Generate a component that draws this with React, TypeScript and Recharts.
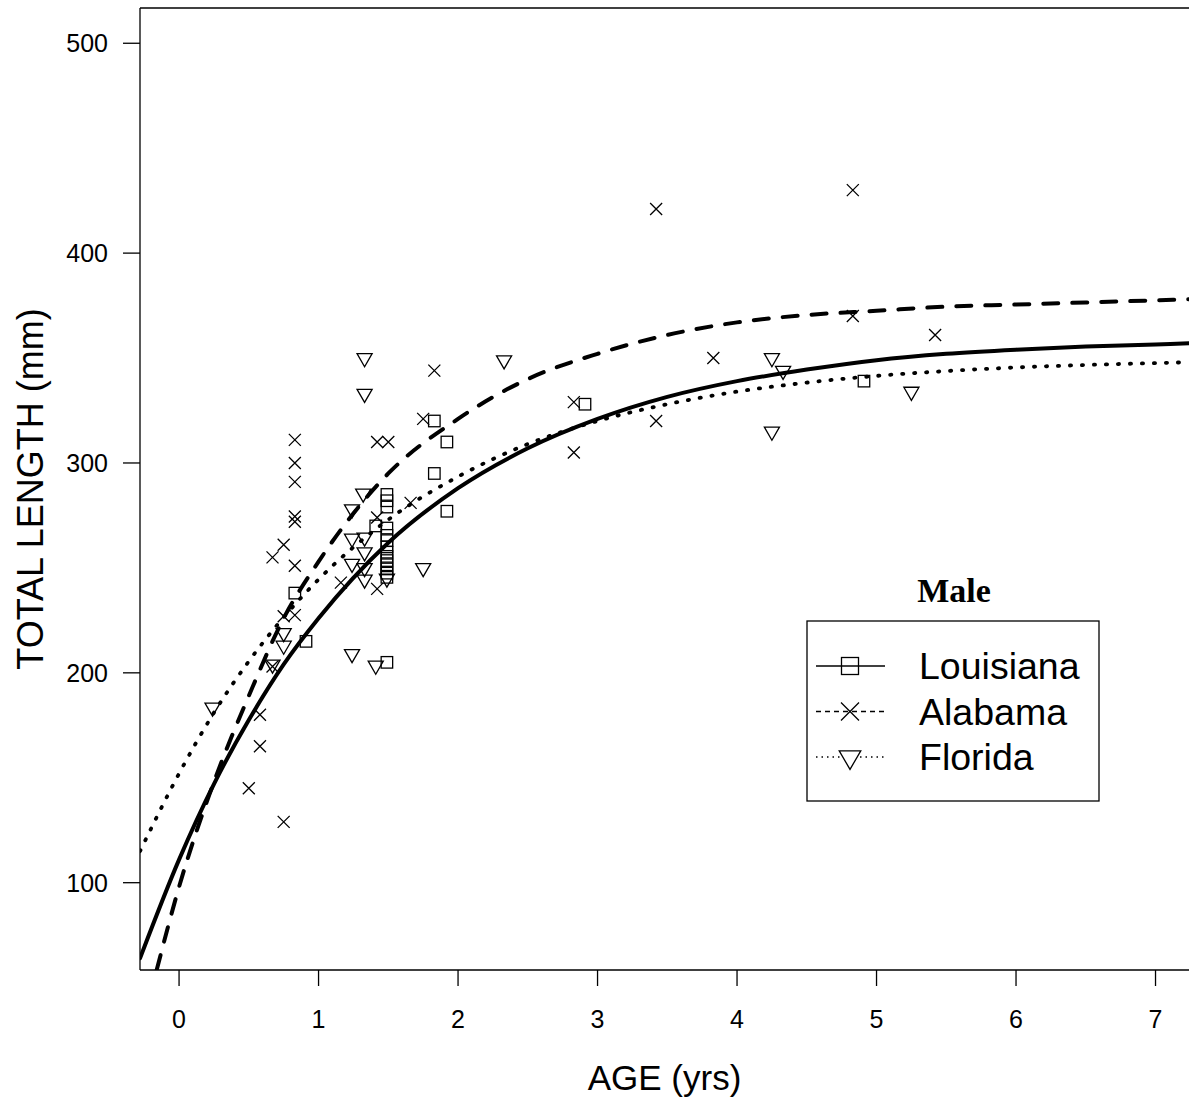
import React from "react";
import {
  ComposedChart,
  Line,
  Scatter,
  XAxis,
  YAxis,
  ReferenceLine,
  Legend,
} from "recharts";

type Pt = { age: number; length: number };

const FONT = "'Liberation Sans', Arial, Helvetica, sans-serif";

const xTicks = [0, 1, 2, 3, 4, 5, 6, 7];
const yTicks = [100, 200, 300, 400, 500];

// observed fish (age in yrs, total length in mm)
const louisianaPoints: Pt[] = [
  { age: 0.83, length: 238 },
  { age: 0.91, length: 215 },
  { age: 1.41, length: 270 },
  { age: 1.49, length: 285 },
  { age: 1.49, length: 282 },
  { age: 1.49, length: 279 },
  { age: 1.49, length: 269 },
  { age: 1.49, length: 265.5 },
  { age: 1.49, length: 263 },
  { age: 1.49, length: 260 },
  { age: 1.49, length: 257.5 },
  { age: 1.49, length: 255.5 },
  { age: 1.49, length: 253.5 },
  { age: 1.49, length: 251.5 },
  { age: 1.49, length: 249.5 },
  { age: 1.49, length: 247.5 },
  { age: 1.49, length: 245.5 },
  { age: 1.49, length: 205 },
  { age: 1.83, length: 320 },
  { age: 1.83, length: 295 },
  { age: 1.92, length: 310 },
  { age: 1.92, length: 277 },
  { age: 2.91, length: 328 },
  { age: 4.91, length: 339 },
];

const alabamaPoints: Pt[] = [
  { age: 0.5, length: 145 },
  { age: 0.58, length: 180 },
  { age: 0.58, length: 165 },
  { age: 0.67, length: 255 },
  { age: 0.67, length: 203 },
  { age: 0.75, length: 261 },
  { age: 0.75, length: 227 },
  { age: 0.75, length: 129 },
  { age: 0.83, length: 311 },
  { age: 0.83, length: 300 },
  { age: 0.83, length: 291 },
  { age: 0.83, length: 274.5 },
  { age: 0.83, length: 272 },
  { age: 0.83, length: 251 },
  { age: 0.83, length: 227.5 },
  { age: 1.16, length: 243 },
  { age: 1.42, length: 240 },
  { age: 1.42, length: 274 },
  { age: 1.42, length: 310 },
  { age: 1.5, length: 310 },
  { age: 1.66, length: 281 },
  { age: 1.75, length: 321 },
  { age: 1.83, length: 344 },
  { age: 2.83, length: 329 },
  { age: 2.83, length: 305 },
  { age: 3.42, length: 421 },
  { age: 3.42, length: 320 },
  { age: 3.83, length: 350 },
  { age: 4.83, length: 430 },
  { age: 4.83, length: 370 },
  { age: 5.42, length: 361 },
];

const floridaPoints: Pt[] = [
  { age: 0.24, length: 183.5 },
  { age: 0.67, length: 204 },
  { age: 0.75, length: 219 },
  { age: 0.75, length: 213 },
  { age: 1.24, length: 278 },
  { age: 1.24, length: 264 },
  { age: 1.24, length: 252 },
  { age: 1.24, length: 209 },
  { age: 1.32, length: 285.5 },
  { age: 1.33, length: 350 },
  { age: 1.33, length: 333 },
  { age: 1.33, length: 264.5 },
  { age: 1.33, length: 257.5 },
  { age: 1.33, length: 250 },
  { age: 1.33, length: 244.5 },
  { age: 1.41, length: 203.5 },
  { age: 1.49, length: 245 },
  { age: 1.75, length: 250 },
  { age: 2.33, length: 349 },
  { age: 4.25, length: 350 },
  { age: 4.33, length: 344 },
  { age: 4.25, length: 315 },
  { age: 5.25, length: 334 },
];

// growth curves
const louisianaCurve: Pt[] = [
  { age: -0.28, length: 64 },
  { age: 0, length: 111 },
  { age: 0.25, length: 147 },
  { age: 0.5, length: 177.5 },
  { age: 0.75, length: 204 },
  { age: 1, length: 226 },
  { age: 1.5, length: 262 },
  { age: 2, length: 288 },
  { age: 2.5, length: 307 },
  { age: 3, length: 321 },
  { age: 3.5, length: 331.5 },
  { age: 4, length: 339 },
  { age: 4.5, length: 344.5 },
  { age: 5, length: 349 },
  { age: 5.5, length: 352 },
  { age: 6, length: 354 },
  { age: 6.5, length: 355.5 },
  { age: 7, length: 356.5 },
  { age: 7.24, length: 357 },
];

const alabamaCurve: Pt[] = [
  { age: -0.16, length: 58.5 },
  { age: 0, length: 98 },
  { age: 0.25, length: 148 },
  { age: 0.5, length: 189 },
  { age: 0.75, length: 226 },
  { age: 1, length: 253 },
  { age: 1.5, length: 295 },
  { age: 2, length: 321 },
  { age: 2.5, length: 340 },
  { age: 3, length: 352 },
  { age: 3.5, length: 361 },
  { age: 4, length: 367 },
  { age: 4.5, length: 370.5 },
  { age: 5, length: 372.5 },
  { age: 5.5, length: 374.5 },
  { age: 6, length: 375.5 },
  { age: 6.5, length: 376.5 },
  { age: 7, length: 377.5 },
  { age: 7.24, length: 378 },
];

const floridaCurve: Pt[] = [
  { age: -0.28, length: 115 },
  { age: 0, length: 152 },
  { age: 0.25, length: 181 },
  { age: 0.5, length: 205.5 },
  { age: 0.75, length: 226.5 },
  { age: 1, length: 244.5 },
  { age: 1.5, length: 273 },
  { age: 2, length: 293.5 },
  { age: 2.5, length: 309 },
  { age: 3, length: 320 },
  { age: 3.5, length: 328 },
  { age: 4, length: 334 },
  { age: 4.5, length: 338.3 },
  { age: 5, length: 341.5 },
  { age: 5.5, length: 343.8 },
  { age: 6, length: 345.5 },
  { age: 6.5, length: 346.7 },
  { age: 7, length: 347.6 },
  { age: 7.24, length: 348 },
];

const X_DOMAIN: [number, number] = [-0.28, 7.24];
const Y_DOMAIN: [number, number] = [58.4, 516.8];

// marker glyphs, R pch 0 / 4 / 6 style
function squareMark(cx: number, cy: number, s: number, key?: string) {
  return (
    <rect key={key} x={cx - s / 2} y={cy - s / 2} width={s} height={s}
      fill="none" stroke="#000" strokeWidth={1.3} />
  );
}
function crossMark(cx: number, cy: number, h: number, key?: string) {
  return (
    <path key={key}
      d={`M${cx - h},${cy - h}L${cx + h},${cy + h}M${cx - h},${cy + h}L${cx + h},${cy - h}`}
      fill="none" stroke="#000" strokeWidth={1.3} />
  );
}
function triMark(cx: number, cy: number, r: number, key?: string) {
  const hw = 1.3468 * r;
  const top = cy - 0.7776 * r;
  const apex = cy + 1.5551 * r;
  return (
    <path key={key}
      d={`M${cx - hw},${top}L${cx + hw},${top}L${cx},${apex}Z`}
      fill="none" stroke="#000" strokeWidth={1.3} />
  );
}

const SquareDot = (p: any) => (p.cx == null ? <g /> : squareMark(p.cx, p.cy, 11.5));
const CrossDot = (p: any) => (p.cx == null ? <g /> : crossMark(p.cx, p.cy, 6));
const TriDot = (p: any) => (p.cx == null ? <g /> : triMark(p.cx, p.cy, 5.6));

const legendRows = [
  { name: "Louisiana", dash: undefined as string | undefined, mark: "square" },
  { name: "Alabama", dash: "5 4", mark: "cross" },
  { name: "Florida", dash: "1.5 4", mark: "tri" },
];

function LegendBox() {
  return (
    <svg width={302} height={240} style={{ display: "block" }}>
      <text x={154} y={37} textAnchor="middle" fontFamily="'Liberation Serif', 'Times New Roman', serif"
        fontWeight="bold" fontSize={34} fill="#000">
        Male
      </text>
      <rect x={7} y={56} width={292} height={180} fill="#fff" stroke="#000" strokeWidth={1.3} />
      {legendRows.map((r, i) => {
        const y = 101 + i * 45.5;
        return (
          <g key={r.name}>
            <line x1={16} x2={85} y1={y} y2={y} stroke="#000" strokeWidth={1.3} strokeDasharray={r.dash} />
            {r.mark === "square" && squareMark(50, y, 17)}
            {r.mark === "cross" && crossMark(50, y, 9)}
            {r.mark === "tri" && (
              <>
                <rect x={40} y={y - 7} width={20} height={18} fill="#fff" />
                {triMark(50, y, 8)}
              </>
            )}
            <text x={119} y={y + 13} fontFamily={FONT} fontSize={37.5} fill="#000">
              {r.name}
            </text>
          </g>
        );
      })}
    </svg>
  );
}

export default function App() {
  return (
    <div style={{ position: "absolute", left: 0, top: 0, background: "#fff" }}>
      <ComposedChart width={1189} height={1101} margin={{ top: 8, right: 0, bottom: 0, left: 0 }}>
        <XAxis
          type="number"
          dataKey="age"
          domain={X_DOMAIN}
          ticks={xTicks}
          allowDataOverflow
          height={131}
          tickSize={16}
          tickMargin={24}
          axisLine={{ stroke: "#000", strokeWidth: 1.3 }}
          tickLine={{ stroke: "#000", strokeWidth: 1.3 }}
          tick={{ fontSize: 25, fill: "#000", fontFamily: FONT }}
          label={{
            value: "AGE (yrs)",
            position: "insideBottom",
            offset: 11,
            fontSize: 35,
            fill: "#000",
            fontFamily: FONT,
          }}
        />
        <YAxis
          type="number"
          domain={Y_DOMAIN}
          ticks={yTicks}
          allowDataOverflow
          width={140}
          tickSize={17}
          tickMargin={15}
          axisLine={{ stroke: "#000", strokeWidth: 1.3 }}
          tickLine={{ stroke: "#000", strokeWidth: 1.3 }}
          tick={{ fontSize: 25, fill: "#000", fontFamily: FONT }}
          label={{
            value: "TOTAL LENGTH (mm)",
            angle: -90,
            position: "insideLeft",
            offset: 30,
            fontSize: 36,
            fill: "#000",
            fontFamily: FONT,
            style: { textAnchor: "middle" },
          }}
        />
        <ReferenceLine y={Y_DOMAIN[1]} stroke="#000" strokeWidth={1.3} ifOverflow="visible" />

        <Scatter name="Louisiana" data={louisianaPoints} dataKey="length" shape={SquareDot} isAnimationActive={false} />
        <Scatter name="Alabama" data={alabamaPoints} dataKey="length" shape={CrossDot} isAnimationActive={false} />
        <Scatter name="Florida" data={floridaPoints} dataKey="length" shape={TriDot} isAnimationActive={false} />

        <Line
          data={louisianaCurve}
          dataKey="length"
          type="monotone"
          stroke="#000"
          strokeWidth={4}
          strokeLinecap="round"
          dot={false}
          activeDot={false}
          legendType="none"
          isAnimationActive={false}
        />
        <Line
          data={alabamaCurve}
          dataKey="length"
          type="monotone"
          stroke="#000"
          strokeWidth={4}
          strokeDasharray="15 14"
          strokeLinecap="round"
          dot={false}
          activeDot={false}
          legendType="none"
          isAnimationActive={false}
        />
        <Line
          data={floridaCurve}
          dataKey="length"
          type="monotone"
          stroke="#000"
          strokeWidth={3.8}
          strokeDasharray="1.2 10.8"
          strokeLinecap="round"
          dot={false}
          activeDot={false}
          legendType="none"
          isAnimationActive={false}
        />

        <Legend
          layout="vertical"
          align="center"
          verticalAlign="middle"
          wrapperStyle={{ position: "absolute", left: 800, top: 565, width: 302, height: 240 }}
          content={() => <LegendBox />}
        />
      </ComposedChart>
    </div>
  );
}
